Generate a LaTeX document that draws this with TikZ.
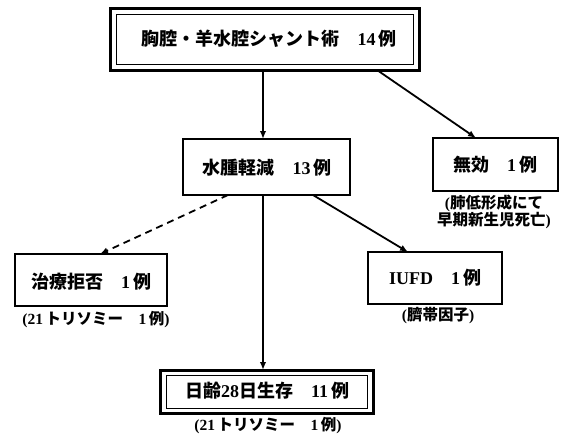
\documentclass[tikz,border=0pt]{standalone}
\usepackage{fontspec}
\setmainfont{Liberation Serif}
\newfontfamily\jpf{Noto Sans CJK JP}
\newcommand{\J}[1]{{\jpf\bfseries #1}}
\usetikzlibrary{arrows.meta}
\begin{document}
\begin{tikzpicture}[x=1pt,y=-1pt,
  box/.style={draw=black,line width=2.2pt,fill=white},
  inbox/.style={draw=black,line width=1pt},
  lbl/.style={font=\fontsize{18}{20}\selectfont\bfseries,inner sep=0pt},
  captext/.style={font=\fontsize{15.5}{17}\selectfont\bfseries,inner sep=0pt,align=center},
  arr/.style={line width=1.8pt,-{Latex[length=8pt,width=6.5pt]}}]
\useasboundingbox (0,0) rectangle (569,437);
\fill[white] (0,0) rectangle (569,437);
% top box
\draw[box,line width=3pt] (110,8) rectangle (419,70);
\draw[inbox] (116,14) rectangle (413,64);
\node[lbl] (top) at (269,39) {\J{胸腔・羊水腔シャント術}\quad 14\,\J{例}};
\coordinate (topA) at (263,70);
\coordinate (topB) at (377,70);
% 水腫軽減
\draw[box] (183,139) rectangle (350,195);
\node[lbl] (mid) at (267,168) {\J{水腫軽減}\quad 13\,\J{例}};
\coordinate (midT) at (263,139);
\coordinate (midL) at (228,195);
\coordinate (midC) at (263,195);
\coordinate (midR) at (313,195);
% 無効
\draw[box,line width=1.6pt] (433,138) rectangle (558,191);
\node[lbl] (muko) at (495,165) {\J{無効}\quad 1\,\J{例}};
\coordinate (mukoT) at (476,138);
\node[captext] (mukoc) at (494,212) {(\J{肺低形成にて}\\\J{早期新生児死亡})};
% 治療拒否
\draw[box,line width=1.6pt] (15,254) rectangle (167,306);
\node[lbl] (kyohi) at (91,282) {\J{治療拒否}\quad 1\,\J{例}};
\coordinate (kyohiT) at (100,254);
\node[captext] (kyohic) at (96,320) {(21\,\J{トリソミー}\quad 1\,\J{例})};
% IUFD
\draw[box,line width=1.6pt] (368,252) rectangle (502,304);
\node[lbl] (iufd) at (435,278) {IUFD\quad 1\,\J{例}};
\coordinate (iufdT) at (408,252);
\node[captext] (iufdc) at (438,316) {(\J{臍帯因子})};
% bottom box
\draw[box,line width=3pt] (160,370) rectangle (373,413);
\draw[inbox] (166,375) rectangle (367,408);
\node[lbl] (bot) at (267,391) {\J{日齢}28\J{日生存}\quad 11\,\J{例}};
\coordinate (botT) at (263,370);
\node[captext] (botc) at (268,426) {(21\,\J{トリソミー}\quad 1\,\J{例})};
% arrows
\draw[arr] (topA) -- (midT);
\draw[arr] (topB) -- (mukoT);
\draw[arr,dashed,dash pattern=on 7pt off 5pt] (midL) -- (kyohiT);
\draw[arr] (midC) -- (botT);
\draw[arr] (midR) -- (iufdT);
\end{tikzpicture}
\end{document}
